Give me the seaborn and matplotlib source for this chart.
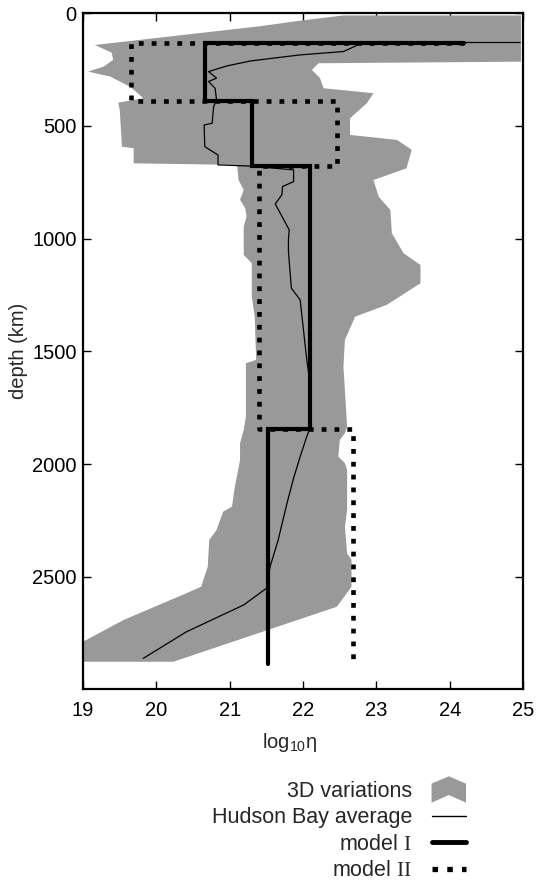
import matplotlib
matplotlib.use("Agg")
import matplotlib.pyplot as plt
import seaborn as sns
from matplotlib.patches import Polygon
from matplotlib.legend_handler import HandlerPatch
from matplotlib.lines import Line2D

# --- 3D viscosity variations: envelope (right edge top->bottom, left edge bottom->top)
env_right_eta = [24.97, 24.97, 22.21, 22.12, 22.23, 22.28, 22.96, 22.87, 22.64, 22.64,
                 23.28, 23.48, 23.41, 22.96, 23.03, 23.19, 23.21, 23.37, 23.60, 23.60,
                 23.14, 22.71, 22.57, 22.55, 22.60, 22.57, 22.50, 22.48, 22.57, 22.60,
                 22.60, 22.57, 22.60, 22.66, 22.66, 22.46, 20.23]
env_right_depth = [10, 215, 222, 252, 288, 333, 355, 399, 466, 540,
                   562, 606, 688, 740, 814, 873, 976, 1065, 1117, 1198,
                   1294, 1346, 1449, 1568, 1834, 1863, 1893, 1967, 1996, 2026,
                   2204, 2278, 2396, 2425, 2544, 2633, 2877]
env_left_eta = [19.00, 19.00, 19.55, 20.41, 20.61, 20.70, 20.72, 20.82, 20.91, 21.03,
                21.07, 21.14, 21.14, 21.19, 21.22, 21.22, 21.36, 21.34, 21.30, 21.30,
                21.19, 21.19, 21.23, 21.21, 21.14, 21.19, 21.12, 21.10, 19.69, 19.69,
                19.53, 19.50, 19.48, 19.82, 19.77, 19.64, 19.37, 19.07, 19.28, 19.41,
                19.39, 19.16, 21.41, 21.96, 22.55]
env_left_depth = [2877, 2788, 2692, 2573, 2544, 2455, 2337, 2292, 2211, 2189,
                  2100, 1982, 1908, 1849, 1790, 1553, 1538, 1346, 1257, 1109,
                  1072, 947, 902, 865, 828, 784, 740, 673, 666, 599,
                  592, 429, 397, 377, 362, 326, 281, 259, 237, 207,
                  175, 141, 58, 33, 10]

# --- Hudson Bay average profile
avg_eta = [24.96, 22.82, 22.55, 21.96, 21.78, 21.28, 20.96, 20.71, 20.82, 20.71,
           20.80, 20.82, 20.78, 20.76, 20.65, 20.66, 20.84, 20.84, 21.28, 21.87,
           21.87, 21.72, 21.71, 21.62, 21.81, 21.80, 21.80, 21.84, 21.96, 22.05,
           22.09, 22.09, 22.05, 21.96, 21.87, 21.78, 21.66, 21.55, 21.50, 21.19,
           20.41, 19.82]
avg_depth = [130, 130, 170, 185, 192, 212, 234, 259, 288, 303,
             333, 385, 414, 488, 496, 592, 629, 673, 678, 695,
             747, 769, 806, 846, 961, 1006, 1058, 1220, 1272, 1538,
             1627, 1844, 1878, 1967, 2063, 2174, 2337, 2455, 2551, 2625,
             2744, 2862]

# --- layered models
layer_bounds = [130, 390, 680, 1843, 2885]
lith_eta = 24.2
model1_eta = [20.66, 21.30, 22.10, 21.52]
model2_eta = [19.66, 22.46, 21.40, 22.68]

x_ticks = [19, 20, 21, 22, 23, 24, 25]
y_ticks = [0, 500, 1000, 1500, 2000, 2500]

GRAY = "#999999"
FS = 14.5
LEG_FS = 15.5


def step_profile(values):
    xs, ys = [lith_eta], [layer_bounds[0]]
    for i, v in enumerate(values):
        xs += [v, v]
        ys += [layer_bounds[i], layer_bounds[i + 1]]
    return xs, ys


sns.set_theme(style="ticks")
plt.rcParams["font.family"] = ["Liberation Sans", "DejaVu Sans"]
plt.rcParams["mathtext.fontset"] = "custom"
plt.rcParams["mathtext.rm"] = "Liberation Serif"
plt.rcParams["mathtext.sf"] = "Liberation Sans"
plt.rcParams["mathtext.it"] = "Liberation Sans:italic"

fig = plt.figure(figsize=(5.36, 8.8), dpi=100)
ax = fig.add_axes([0.155, 0.2165, 0.821, 0.7685])

env_x = env_right_eta + env_left_eta
env_y = env_right_depth + env_left_depth
ax.fill(env_x, env_y, color=GRAY, lw=0, zorder=1)

sns.lineplot(x=avg_eta, y=avg_depth, sort=False, estimator=None, color="black",
             lw=0.9, ax=ax, zorder=3)

m2x, m2y = step_profile(model2_eta)
sns.lineplot(x=m2x, y=m2y, sort=False, estimator=None, color="black", lw=3.3,
             linestyle=(0, (1.05, 1.75)), dash_capstyle="butt", ax=ax, zorder=4)
m1x, m1y = step_profile(model1_eta)
sns.lineplot(x=m1x, y=m1y, sort=False, estimator=None, color="black", lw=3.0,
             solid_joinstyle="miter", ax=ax, zorder=5)

ax.set_xlim(19, 25)
ax.set_ylim(3000, 0)
ax.set_xticks(x_ticks)
ax.set_yticks(y_ticks)
ax.tick_params(direction="in", top=True, right=True, length=6, width=1,
               labelsize=FS, colors="black")
ax.tick_params(axis="x", pad=8)
ax.tick_params(axis="y", pad=4.5)
for s in ax.spines.values():
    s.set_linewidth(1.6)
    s.set_color("black")
ax.set_xlabel("log$_{\\mathsf{10}}$η", fontsize=FS)
ax.xaxis.set_label_coords(0.47, -0.062)
ax.set_ylabel("depth (km)", fontsize=FS, labelpad=3)


class ChevronHandler(HandlerPatch):
    def create_artists(self, legend, orig_handle, xdescent, ydescent, width,
                       height, fontsize, trans):
        h = height * 1.75
        x0 = -xdescent
        y0 = -ydescent + (height - h) / 2
        pts = [(x0, y0), (x0, y0 + 0.72 * h), (x0 + 0.5 * width, y0 + h),
               (x0 + width, y0 + 0.72 * h), (x0 + width, y0),
               (x0 + 0.5 * width, y0 + 0.29 * h)]
        p = Polygon(pts, closed=True, facecolor=GRAY, edgecolor="none",
                    transform=trans)
        return [p]


env_handle = Polygon([(0, 0), (1, 0), (1, 1)], facecolor=GRAY)
handles = [
    env_handle,
    Line2D([], [], color="black", lw=1.0),
    Line2D([], [], color="black", lw=3.5),
    Line2D([], [], color="black", lw=3.8, linestyle=(0, (1.05, 1.75)),
           dash_capstyle="butt"),
]
labels = ["3D variations", "Hudson Bay average",
          "model $\\mathrm{I}$", "model $\\mathrm{II}$"]
fig.legend(handles, labels, loc="upper right",
           bbox_to_anchor=(466 / 536, 1 - 781 / 880),
           markerfirst=False, frameon=False, fontsize=LEG_FS,
           handlelength=1.6, handletextpad=0.9, labelspacing=0.25,
           borderpad=0, borderaxespad=0,
           handler_map={Polygon: ChevronHandler()})

fig.savefig("out.png", dpi=100)
